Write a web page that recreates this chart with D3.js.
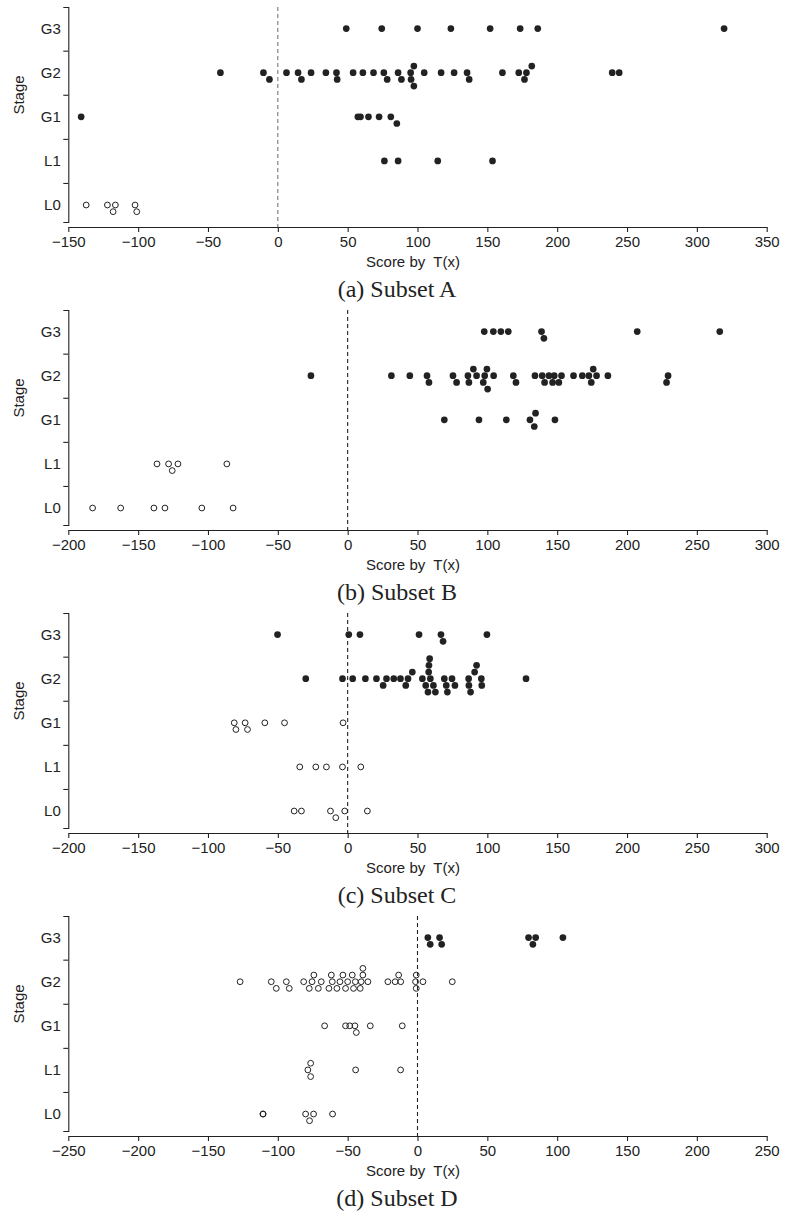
<!DOCTYPE html>
<html>
<head>
<meta charset="utf-8">
<script src="https://d3js.org/d3.v7.min.js"></script>
<style>
  body { margin: 0; background: #fff; }
  svg text { font-family: "Liberation Sans", Arial, sans-serif; fill: #222; }
  svg text.caption { font-family: "Liberation Serif", "Times New Roman", serif; }
  .axis path, .axis line { stroke: #222; stroke-width: 1.1; }
</style>
</head>
<body>
<svg id="chart" width="785" height="1219"></svg>
<script>
// stages from bottom row to top row
const stages = ["L0", "L1", "G1", "G2", "G3"];
const captions = ["(a) Subset A", "(b) Subset B", "(c) Subset C", "(d) Subset D"];
const xDomains = [[-150, 350], [-200, 300], [-200, 300], [-250, 250]];
const xTicks = [
  [-150, -100, -50, 0, 50, 100, 150, 200, 250, 300, 350],
  [-200, -150, -100, -50, 0, 50, 100, 150, 200, 250, 300],
  [-200, -150, -100, -50, 0, 50, 100, 150, 200, 250, 300],
  [-250, -200, -150, -100, -50, 0, 50, 100, 150, 200, 250]
];
// stages drawn with open circles in each subset
const openStages = [["L0"], ["L0", "L1"], ["L0", "L1", "G1"], ["L0", "L1", "G1", "G2"]];

// scores: [T(x), stack index] (0 = on the row, 1 = one dot below, -1 = one dot above)
const aL0 = [[-137.2,0],[-122,0],[-117.9,1],[-116.3,0],[-102.2,0],[-101,1]];
const aL1 = [[76.3,0],[86.1,0],[114.5,0],[153.7,0]];
const aG1 = [[-140.8,0],[57.3,0],[59.2,0],[64.9,0],[72.5,0],[80.9,0],[85.2,1]];
const aG2 = [[-41.1,0],[-10.3,0],[-6,1],[6.2,0],[14.5,0],[16.9,1],[23.8,0],[34.4,0],[42,0],[42.5,1],
  [53.9,0],[60.9,0],[68.5,0],[75.9,0],[78.3,1],[86.1,0],[88.5,1],[95.1,0],[95.4,1],[97.4,-1],[97.4,2],
  [104.8,0],[116.9,0],[126.2,0],[135.5,0],[137,1],[160.8,0],[172.5,0],[176.6,1],[178,0],[181.8,-1],
  [239.4,0],[244.4,0]];
const aG3 = [[49,0],[74.4,0],[100,0],[123.9,0],[152,0],[173.5,0],[186.1,0],[319.5,0]];

const bL0 = [[-182.6,0],[-162.5,0],[-138.7,0],[-130.8,0],[-104.4,0],[-82,0]];
const bL1 = [[-136.5,0],[-128.2,0],[-125.6,1],[-121.5,0],[-86.5,0]];
const bG1 = [[69.2,0],[94,0],[113.6,0],[130.5,0],[134.5,-1],[133.6,1],[148.4,0]];
const bG2 = [[-26.3,0],[31.3,0],[44.5,0],[56.8,0],[58.2,1],[75.4,0],[78,1],[86.1,0],[86.8,1],[90,-1],
  [92.3,0],[97.1,1],[98.1,0],[99.7,-1],[100.2,2],[104.5,0],[118.6,0],[120.5,1],[134.1,0],[139.3,0],
  [141,1],[144.1,0],[146.7,1],[147.9,0],[151.2,1],[153.1,0],[161.7,0],[168,0],[172.7,0],[174.4,1],
  [175.8,-1],[178.2,0],[186.3,0],[228.3,1],[229.4,0]];
const bG3 = [[97.8,0],[104.3,0],[109.7,0],[115,0],[138.8,0],[140.5,1],[207.3,0],[266.4,0]];

const cL0 = [[-38.3,0],[-33.1,0],[-12.3,0],[-8.5,1],[-2.1,0],[14.1,0]];
const cL1 = [[-34.3,0],[-22.8,0],[-15.2,0],[-3.7,0],[9.4,0]];
const cG1 = [[-81.2,0],[-80,1],[-73.4,0],[-71.7,1],[-59.3,0],[-45.2,0],[-3.3,0]];
const cG2 = [[-30,0],[-3.7,0],[3.6,0],[12.7,0],[20.6,0],[25.4,1],[27.8,0],[33,0],[37.8,0],[41.6,1],
  [43.2,0],[46.3,-1],[53.5,0],[55.9,1],[57.5,2],[58,-1],[58.2,-2],[58.7,-3],[59.2,0],[61.4,1],[62.8,2],
  [69.2,0],[70.6,1],[71.4,2],[74.7,0],[76.8,1],[86.6,0],[86.8,1],[88,2],[90.9,-1],[92.3,-2],[95.7,0],
  [96,1],[127.7,0]];
const cG3 = [[-50.2,0],[0.8,0],[8.8,0],[51.1,0],[66.8,0],[68.3,1],[99.7,0]];

const dL0 = [[-110.7,0],[-110.5,0],[-80.1,0],[-77.3,1],[-74.4,0],[-60.8,0]];
const dL1 = [[-78.5,0],[-76.5,-1],[-76.5,1],[-44.3,0],[-12.1,0]];
const dG1 = [[-66.5,0],[-51.5,0],[-48.5,0],[-44.8,0],[-43.8,1],[-33.8,0],[-10.9,0]];
const dG2 = [[-127,0],[-104.7,0],[-101.1,1],[-93.9,0],[-91.8,1],[-81.5,0],[-77.5,1],[-75.5,0],[-74.2,-1],
  [-71,1],[-68.9,0],[-63.4,1],[-61.7,-1],[-61,0],[-57.7,1],[-55.5,0],[-53.4,-1],[-51.5,1],[-50,0],
  [-46.7,-1],[-45.8,1],[-44.5,0],[-41,1],[-40.3,0],[-39.1,-1],[-39.1,-2],[-35.5,0],[-21.2,0],[-16,0],
  [-13.5,-1],[-12,0],[-1.4,0],[-0.9,-1],[-0.9,1],[3.9,0],[24.9,0]];
const dG3 = [[7.4,0],[9.1,1],[15.8,0],[17.3,1],[79.5,0],[82.6,1],[84.6,0],[104.1,0]];

const subsets = [
  [aL0, aL1, aG1, aG2, aG3],
  [bL0, bL1, bG1, bG2, bG3],
  [cL0, cL1, cG1, cG2, cG3],
  [dL0, dL1, dG1, dG2, dG3]
];

const svg = d3.select("svg#chart");
const panelStep = 303;
const plotLeft = 68.3, plotRight = 766.7;
const axisY = 227;
const dotStep = 6.67;
const fontSize = 15;

subsets.forEach((series, k) => {
  const g = svg.append("g").attr("transform", `translate(0,${k * panelStep})`);

  const x = d3.scaleLinear().domain(xDomains[k]).range([plotLeft, plotRight]);
  // row index scale, stretched so the axis line ends a bit past the outer rows
  const y = d3.scaleLinear().domain([-0.385, 4.49]).range([222, 7]);

  // reference line at zero
  g.append("line")
    .attr("x1", x(0)).attr("x2", x(0))
    .attr("y1", y.range()[1]).attr("y2", axisY)
    .attr("stroke", k === 0 ? "#777" : "#222")
    .attr("stroke-width", 1.1)
    .attr("stroke-dasharray", "4,3");

  // y axis: bracket ticks between stages
  g.append("g")
    .attr("class", "axis")
    .attr("transform", `translate(${plotLeft},0)`)
    .call(d3.axisLeft(y).tickValues([0.5, 1.5, 2.5, 3.5]).tickSize(5).tickSizeOuter(5).tickFormat(""));

  // stage names
  const lab = g.append("g")
    .attr("transform", `translate(${plotLeft},0)`)
    .call(d3.axisLeft(y).tickValues([0, 1, 2, 3, 4]).tickSize(0).tickPadding(7.5)
      .tickFormat(i => stages[i]));
  lab.select(".domain").remove();
  lab.selectAll("text").attr("font-size", fontSize).attr("font-family", null).attr("fill", "#222");

  // x axis
  const xa = g.append("g")
    .attr("class", "axis")
    .attr("transform", `translate(0,${axisY})`)
    .call(d3.axisBottom(x).tickValues(xTicks[k]).tickSize(5).tickSizeOuter(0).tickPadding(4.3)
      .tickFormat(d3.format("d")));
  xa.selectAll("text").attr("font-size", fontSize).attr("font-family", null).attr("fill", "#222");

  g.append("text")
    .attr("x", 413).attr("y", 267)
    .attr("text-anchor", "middle")
    .attr("font-size", fontSize)
    .attr("xml:space", "preserve")
    .style("white-space", "pre")
    .text("Score by  T(x)");

  g.append("text")
    .attr("transform", "translate(24,95) rotate(-90)")
    .attr("text-anchor", "middle")
    .attr("font-size", fontSize)
    .text("Stage");

  g.append("text")
    .attr("class", "caption")
    .attr("x", 397).attr("y", 297)
    .attr("text-anchor", "middle")
    .attr("font-size", 24)
    .text(captions[k]);

  // points
  series.forEach((pts, i) => {
    const open = openStages[k].includes(stages[i]);
    g.append("g")
      .selectAll("circle")
      .data(pts)
      .join("circle")
      .attr("cx", d => x(d[0]))
      .attr("cy", d => y(i) + d[1] * dotStep)
      .attr("r", open ? 2.9 : 3.35)
      .attr("fill", open ? "#fff" : "#222")
      .attr("fill-opacity", open ? 0 : 1)
      .attr("stroke", open ? "#222" : "none")
      .attr("stroke-width", 1);
  });
});
</script>
</body>
</html>
